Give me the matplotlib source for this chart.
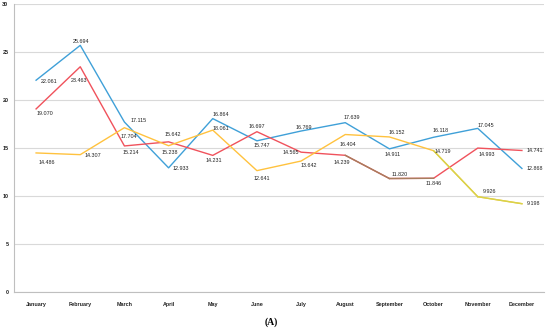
import matplotlib
matplotlib.use("Agg")
import matplotlib.pyplot as plt
import numpy as np

months = ["January", "February", "March", "April", "May", "June", "July",
          "August", "September", "October", "November", "December"]
blue_vals = [22.061, 25.694, 17.704, 12.933, 18.061, 15.747, 16.769, 17.639,
             14.911, 16.118, 17.045, 12.868]
red_vals = [19.070, 23.463, 15.214, 15.642, 14.231, 16.697, 14.565, 14.239,
            11.820, 11.846, 14.993, 14.741]
yellow_vals = [14.486, 14.307, 17.115, 15.238, 16.864, 12.641, 13.642, 16.404,
               16.152, 14.719, 9.926, 9.198]
y_ticks = [0, 5, 10, 15, 20, 25, 30]

# label offsets in pixels (dx, dy up)
blue_off = [(13, -1), (1, 4), (4, -14), (12, -1), (8, -10), (5, -5), (2.5, 4),
            (6.5, 4.7), (3.7, -5.4), (7, 7), (7.7, 2.7), (12.8, -0.5)]
red_off = [(8.7, -4.8), (-1.2, -14.2), (6.6, -6.7), (4, 7), (1.2, -5.3), (0.3, 5),
           (-9.9, -0.8), (-3, -7), (10.4, 3.8), (0.5, -5.4), (8.7, -6.6), (12.8, -0.2)]
yellow_off = [(11, -9.7), (12.8, -1), (13.9, 7), (1.4, -7), (8.2, 16), (5.3, -7.4),
              (7.5, -4.7), (2.6, -9.5), (7.1, 4.9), (9.5, -1.3), (11.3, 5.4), (11.5, -0.3)]

BLUE = "#3FA0D8"
RED = "#F0525C"
YELLOW = "#FFC23E"
BROWN = "#A67E5E"
LIME = "#D6D44A"

fig = plt.figure(figsize=(5.5, 3.29), dpi=100)
ax = fig.add_axes([14 / 550, 1 - 292 / 329, 530 / 550, 288 / 329])

x = np.arange(len(months))
lw = 1.0
ax.plot(x, blue_vals, color=BLUE, lw=lw, zorder=3)
ax.plot(x, red_vals, color=RED, lw=lw, zorder=3)
ax.plot(x, yellow_vals, color=YELLOW, lw=lw, zorder=3)
# segments with shifted colours
for i in (7, 8):
    ax.plot(x[i:i + 2], red_vals[i:i + 2], color=BROWN, lw=lw, zorder=3.1)
for i in (9, 10):
    ax.plot(x[i:i + 2], yellow_vals[i:i + 2], color=LIME, lw=lw, zorder=3.1)

lab_font = dict(fontsize=3.9, family="Liberation Sans", color="#222222")
for vals, offs in ((blue_vals, blue_off), (red_vals, red_off), (yellow_vals, yellow_off)):
    for xi, v, (dx, dy) in zip(x, vals, offs):
        ax.annotate(f"{v:.3f}", (xi, v), xytext=(dx, dy), textcoords="offset pixels",
                    ha="center", va="center", zorder=5, **lab_font)

ax.set_xlim(-0.5, len(months) - 0.5)
ax.set_ylim(0, 30)
ax.set_yticks(y_ticks)
ax.set_xticks(x)
ax.set_xticklabels(months)
ax.yaxis.grid(True, color="#D9D9D9", lw=0.8)
ax.set_axisbelow(True)
for s in ("top", "right"):
    ax.spines[s].set_visible(False)
for s in ("left", "bottom"):
    ax.spines[s].set_color("#BFBFBF")
    ax.spines[s].set_linewidth(0.8)
ax.tick_params(axis="both", length=0, labelsize=3.9, colors="#222222")
ax.tick_params(axis="x", pad=7)
ax.tick_params(axis="y", pad=4)
for t in ax.get_xticklabels() + ax.get_yticklabels():
    t.set_fontweight("bold")
    t.set_family("Liberation Sans")

fig.text(271 / 550, 1 - 322 / 329, "(A)", ha="center", va="center",
         fontsize=7, fontweight="bold", family="Liberation Serif")

fig.savefig("out.png", dpi=100)
